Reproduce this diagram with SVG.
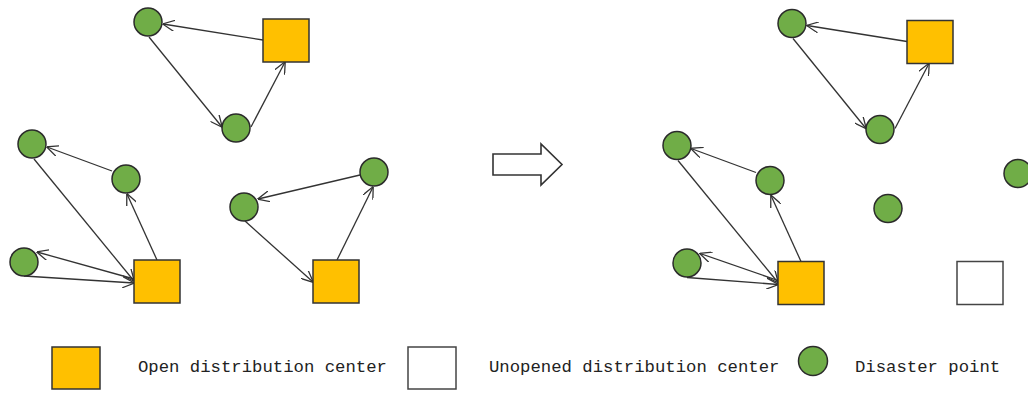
<svg xmlns="http://www.w3.org/2000/svg" width="1028" height="393" viewBox="0 0 1028 393">
<style>
.dp{fill:#70AD47;stroke:#2b2b2b;stroke-width:1.5}
.open{fill:#FFC000;stroke:#333;stroke-width:1.5}
.closed{fill:#fff;stroke:#444;stroke-width:1.5}
.e{fill:none;stroke:#333;stroke-width:1.3;marker-end:url(#arr)}
.t{font-family:"Liberation Mono",monospace;font-size:17.3px;fill:#222}
</style>
<defs>
<marker id="arr" viewBox="0 0 12 11" refX="11.5" refY="5.5" markerWidth="12" markerHeight="11" markerUnits="userSpaceOnUse" orient="auto">
<path d="M0,0 L12,5.5 L0,11" fill="none" stroke="#333" stroke-width="1.3"/>
</marker>
</defs>
<rect width="1028" height="393" fill="#fff"/>
<g id="before">
<g id="connectors-before">
<line class="e" x1="263" y1="40" x2="163" y2="24"/>
<line class="e" x1="149" y1="37" x2="222" y2="127"/>
<line class="e" x1="251" y1="127" x2="285" y2="62"/>
<line class="e" x1="157" y1="260" x2="127" y2="194"/>
<line class="e" x1="112" y1="171" x2="47" y2="147"/>
<line class="e" x1="34" y1="159" x2="134" y2="281"/>
<line class="e" x1="134" y1="279" x2="37" y2="252"/>
<line class="e" x1="24" y1="276" x2="134" y2="283"/>
<line class="e" x1="360" y1="175" x2="258" y2="199"/>
<line class="e" x1="245" y1="221" x2="313" y2="282"/>
<line class="e" x1="337" y1="260" x2="373" y2="187"/>
</g>
<g id="b-A"><circle class="dp" cx="148" cy="22" r="14"/></g>
<g id="b-S1"><rect class="open" x="263" y="19" width="46" height="43"/></g>
<g id="b-B"><circle class="dp" cx="236" cy="128" r="14"/></g>
<g id="b-C"><circle class="dp" cx="32" cy="144" r="14"/></g>
<g id="b-D"><circle class="dp" cx="126" cy="179" r="14"/></g>
<g id="b-E"><circle class="dp" cx="24" cy="262" r="14"/></g>
<g id="b-S2"><rect class="open" x="134" y="260" width="46" height="43"/></g>
<g id="b-F"><circle class="dp" cx="244" cy="207" r="14"/></g>
<g id="b-G"><circle class="dp" cx="374" cy="172" r="14"/></g>
<g id="b-S3"><rect class="open" x="313" y="260" width="46" height="43"/></g>
</g>
<g id="transition-arrow"><path d="M493,154 H541 V144 L562,164.5 L541,185 V175 H493 Z" fill="#fff" stroke="#333" stroke-width="1.6"/></g>
<g id="after" transform="translate(644,1.5)">
<g id="connectors-after">
<line class="e" x1="263" y1="40" x2="163" y2="24"/>
<line class="e" x1="149" y1="37" x2="222" y2="127"/>
<line class="e" x1="251" y1="127" x2="285" y2="62"/>
<line class="e" x1="157" y1="260" x2="127" y2="194"/>
<line class="e" x1="112" y1="171" x2="47" y2="147"/>
<line class="e" x1="34" y1="159" x2="134" y2="281"/>
<line class="e" x1="134" y1="279" x2="56" y2="252"/>
<line class="e" x1="43" y1="276" x2="134" y2="283"/>
</g>
<g id="a-A"><circle class="dp" cx="148" cy="22" r="14"/></g>
<g id="a-S1"><rect class="open" x="263" y="19" width="46" height="43"/></g>
<g id="a-B"><circle class="dp" cx="236" cy="128" r="14"/></g>
<g id="a-C"><circle class="dp" cx="33" cy="144" r="14"/></g>
<g id="a-D"><circle class="dp" cx="126" cy="179" r="14"/></g>
<g id="a-E"><circle class="dp" cx="43" cy="261.5" r="14"/></g>
<g id="a-S2"><rect class="open" x="134" y="260" width="46" height="43"/></g>
<g id="a-F"><circle class="dp" cx="244" cy="207" r="14"/></g>
<g id="a-G"><circle class="dp" cx="374" cy="172" r="14"/></g>
<g id="a-S3"><rect class="closed" x="313" y="260" width="46" height="43"/></g>
</g>
<g id="legend">
<g id="leg-open"><rect class="open" x="52" y="347" width="48" height="42"/><text class="t" x="138" y="372">Open distribution center</text></g>
<g id="leg-closed"><rect class="closed" x="408" y="347" width="48" height="42"/><text class="t" x="489" y="372">Unopened distribution center</text></g>
<g id="leg-dp"><circle class="dp" cx="813" cy="361" r="14.5"/><text class="t" x="855" y="372">Disaster point</text></g>
</g>
</svg>
